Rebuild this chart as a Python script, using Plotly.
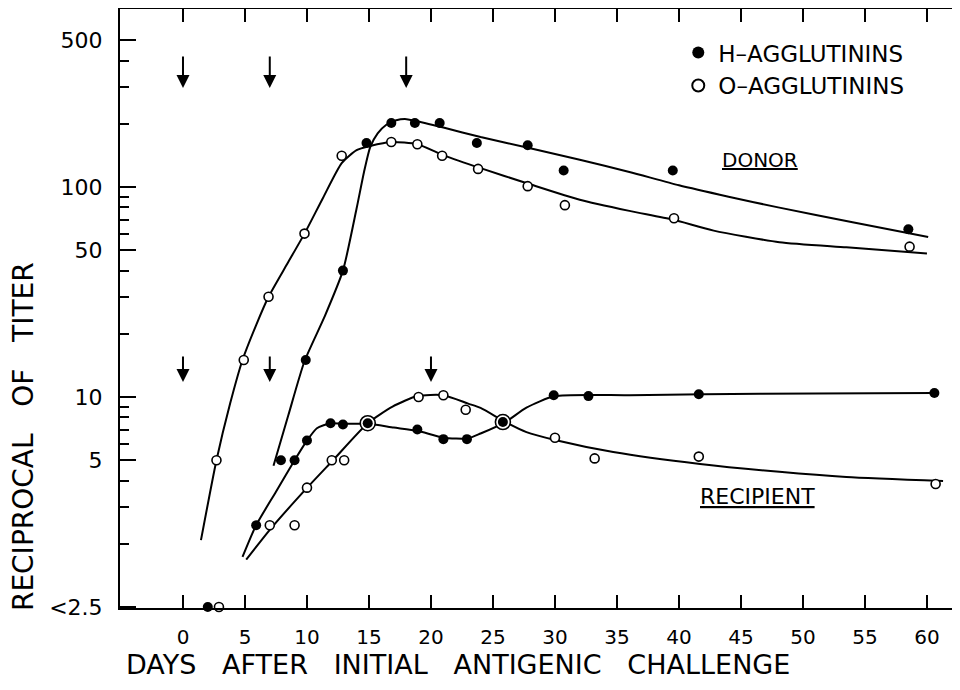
import math
import plotly.graph_objects as go

# ---------------- data ----------------
# Donor, H-agglutinins (filled dots)
donor_h_days = [7.9, 9.9, 12.9, 14.8, 16.8, 18.7, 20.7, 23.7, 27.8, 30.7, 39.5, 58.5]
donor_h_vals = [5.0, 15, 40, 162, 202, 202, 202, 162, 158, 120, 120, 63]
# Donor, O-agglutinins (open circles)
donor_o_days = [2.7, 4.9, 6.9, 9.8, 12.8, 16.8, 18.9, 20.9, 23.8, 27.8, 30.8, 39.6, 58.6]
donor_o_vals = [5.0, 15, 30, 60, 141, 164, 160, 141, 122, 101, 82, 71, 52]
# Recipient, H-agglutinins
recip_h_days = [5.9, 9.0, 10.0, 11.9, 12.9, 14.9, 18.9, 21.0, 22.9, 25.8, 29.9, 32.7, 41.6, 60.6]
recip_h_vals = [2.45, 5.0, 6.2, 7.5, 7.4, 7.5, 7.0, 6.3, 6.3, 7.6, 10.2, 10.1, 10.3, 10.45]
# Recipient, O-agglutinins
recip_o_days = [7.0, 9.0, 10.0, 12.0, 13.0, 14.9, 19.0, 21.0, 22.8, 25.8, 30.0, 33.2, 41.6, 60.7]
recip_o_vals = [2.45, 2.45, 3.7, 5.0, 5.0, 7.5, 10.0, 10.2, 8.7, 7.6, 6.4, 5.1, 5.2, 3.85]
# Titer below detection ("<2.5"), drawn on the bottom axis
below_h_days = [2.0]
below_o_days = [2.9]
BELOW_LEVEL = 1.0

# Fitted curves
donor_h_curve_days = [7.3, 8.5, 9.8, 11.4, 12.9, 14.0, 14.6, 15.1, 15.7, 16.4, 17.2, 17.9, 18.7,
                      21.0, 24.0, 28.0, 32.0, 36.0, 40.0, 44.0, 48.0, 54.0, 60.1]
donor_h_curve_vals = [4.7, 8.2, 14.8, 24, 40, 79, 118, 155, 180, 198, 208, 211, 207,
                      192, 173, 153, 135, 118, 102, 90, 80, 68, 57.8]
donor_o_curve_days = [1.45, 2.7, 3.8, 4.8, 5.9, 6.9, 8.4, 9.8, 11.3, 12.8, 14.0, 15.1, 16.8, 18.9,
                      21.0, 24.0, 27.8, 32.0, 36.0, 39.5, 42.8, 48.1, 53.5, 60.0]
donor_o_curve_vals = [2.08, 5.0, 9.3, 15, 22, 30, 43, 60, 89, 130, 150, 157, 164, 160,
                      142, 123, 104, 87, 77, 70, 62, 54.6, 51.6, 48.3]
recip_h_curve_days = [4.8, 5.9, 7.5, 9.0, 10.0, 10.8, 11.9, 12.9, 14.9, 17.0, 18.9, 21.0, 23.0,
                      24.0, 26.0, 27.7, 30.0, 36.0, 42.0, 51.0, 60.6]
recip_h_curve_vals = [1.73, 2.45, 3.54, 5.0, 6.2, 7.1, 7.5, 7.45, 7.45, 7.15, 6.9, 6.4, 6.35,
                      6.7, 7.6, 8.9, 10.1, 10.2, 10.3, 10.4, 10.45]
recip_o_curve_days = [5.1, 7.0, 10.0, 12.1, 14.9, 16.9, 18.9, 21.0, 23.0, 24.0, 26.0, 27.7,
                      30.0, 34.7, 41.7, 48.1, 53.5, 61.3]
recip_o_curve_vals = [1.68, 2.33, 3.69, 5.0, 7.5, 9.0, 10.1, 10.2, 9.3, 8.87, 7.6, 6.8,
                      6.24, 5.47, 4.8, 4.4, 4.16, 3.98]

# Injection arrows
donor_arrow_days = [0, 7, 18]
donor_arrow_level = 296
recip_arrow_days = [0, 7, 20]
recip_arrow_level = 11.8

# Axis ticks
x_ticks = list(range(0, 61, 5))
y_major_vals = [1, 5, 10, 50, 100, 500]
y_major_text = ["<2.5", "5", "10", "50", "100", "500"]
y_minor_vals = [2, 3, 4, 6, 7, 8, 9, 20, 30, 40, 60, 70, 80, 90, 200, 300, 400]

# ---------------- figure ----------------
FONT = "DejaVu Sans"
fig = go.Figure()

def curve(xs, ys):
    fig.add_trace(go.Scatter(x=xs, y=ys, mode="lines", showlegend=False, hoverinfo="skip",
                             line=dict(color="black", width=2, shape="spline", smoothing=0.6)))

curve(donor_h_curve_days, donor_h_curve_vals)
curve(donor_o_curve_days, donor_o_curve_vals)
curve(recip_h_curve_days, recip_h_curve_vals)
curve(recip_o_curve_days, recip_o_curve_vals)

filled = dict(symbol="circle", size=10, color="black", opacity=1, line=dict(width=0))
def open_marker(size):
    return dict(symbol="circle", size=size, color="white", opacity=1,
                line=dict(color="black", width=1.6))

# open circles that coincide with a filled dot are drawn larger
def sizes(days, vals, other_days, other_vals):
    out = []
    for d, v in zip(days, vals):
        hit = any(abs(d - d2) < 0.3 and abs(math.log10(v) - math.log10(v2)) < 0.03
                  for d2, v2 in zip(other_days, other_vals))
        out.append(15 if hit else 9)
    return out

fig.add_trace(go.Scatter(x=donor_o_days, y=donor_o_vals, mode="markers", name="O–AGGLUTININS",
                         marker=open_marker(9), legendrank=2))
fig.add_trace(go.Scatter(x=recip_o_days, y=recip_o_vals, mode="markers", showlegend=False,
                         marker=open_marker(sizes(recip_o_days, recip_o_vals, recip_h_days, recip_h_vals))))
fig.add_trace(go.Scatter(x=donor_h_days, y=donor_h_vals, mode="markers", name="H–AGGLUTININS",
                         marker=filled, legendrank=1))
fig.add_trace(go.Scatter(x=recip_h_days, y=recip_h_vals, mode="markers", showlegend=False, marker=filled))
fig.add_trace(go.Scatter(x=below_h_days, y=[BELOW_LEVEL] * len(below_h_days), mode="markers",
                         showlegend=False, marker=filled, cliponaxis=False))
fig.add_trace(go.Scatter(x=below_o_days, y=[BELOW_LEVEL] * len(below_o_days), mode="markers",
                         showlegend=False, marker=open_marker(9), cliponaxis=False))

annotations = []
for d in donor_arrow_days:
    annotations.append(dict(x=d, y=math.log10(donor_arrow_level), xref="x", yref="y", text="",
                            showarrow=True, arrowhead=2, arrowsize=1.3, arrowwidth=2,
                            arrowcolor="black", ax=0, ay=-33))
for d in recip_arrow_days:
    annotations.append(dict(x=d, y=math.log10(recip_arrow_level), xref="x", yref="y", text="",
                            showarrow=True, arrowhead=2, arrowsize=1.3, arrowwidth=2,
                            arrowcolor="black", ax=0, ay=-27))

NB = "\u00a0"
x_title = (NB * 3).join(["DAYS", "AFTER", "INITIAL", "ANTIGENIC", "CHALLENGE"])
y_title = (NB * 3).join(["RECIPROCAL", "OF", "TITER"])

annotations += [
    dict(x=46.5, y=math.log10(135), xref="x", yref="y", text="<u>DONOR</u>", showarrow=False,
         font=dict(family=FONT, size=20, color="black")),
    dict(x=46.3, y=math.log10(3.34), xref="x", yref="y", text="<u>RECIPIENT</u>", showarrow=False,
         font=dict(family=FONT, size=22, color="black")),
    dict(x=0.406, y=-0.1235, xref="paper", yref="paper", xanchor="center", yanchor="bottom",
         text=x_title, showarrow=False, font=dict(family=FONT, size=27, color="black")),
    dict(x=-0.1166, y=0.287, xref="paper", yref="paper", xanchor="center", yanchor="middle",
         text=y_title, textangle=-90,
         showarrow=False, font=dict(family=FONT, size=28, color="black")),
]

# The page adds an 8px body margin, so the figure is sized to fit inside the window
fig.update_layout(
    width=944, height=674,
    margin=dict(l=112, r=0, t=1, b=74, autoexpand=False),
    plot_bgcolor="white", paper_bgcolor="white",
    font=dict(family=FONT, color="black"),
    showlegend=True,
    legend=dict(x=0.671, y=0.963, xanchor="left", yanchor="top", bgcolor="rgba(0,0,0,0)",
                font=dict(family=FONT, size=23, color="black"), itemsizing="constant"),
    annotations=annotations,
    xaxis=dict(range=[-5.08, 62.02], tickmode="array", tickvals=x_ticks, ticks="inside", ticklen=13,
               tickwidth=2, tickcolor="black", showline=True, linewidth=2, linecolor="black",
               mirror="ticks", showgrid=False, zeroline=False, automargin=False,
               ticklabelstandoff=10,
               tickfont=dict(family=FONT, size=20, color="black")),
    yaxis=dict(type="log", range=[-0.005, 2.848], tickmode="array", tickvals=y_major_vals,
               ticktext=y_major_text, ticks="inside", ticklen=16, tickwidth=2, tickcolor="black",
               showline=True, linewidth=2, linecolor="black", showgrid=False, zeroline=False,
               ticklabelstandoff=11, automargin=False,
               tickfont=dict(family=FONT, size=22, color="black"),
               minor=dict(tickmode="array", tickvals=y_minor_vals, ticks="inside", ticklen=9,
                          tickwidth=2, tickcolor="black", showgrid=False)),
    yaxis2=dict(type="log", range=[-0.005, 2.848], overlaying="y", side="right", anchor="x",
                tickmode="array", tickvals=y_major_vals, showticklabels=False, ticks="inside",
                ticklen=9, tickwidth=2, tickcolor="black", showline=False, showgrid=False,
                zeroline=False, automargin=False,
                minor=dict(tickmode="array", tickvals=y_minor_vals, ticks="inside", ticklen=4,
                           tickwidth=2, tickcolor="black", showgrid=False)),
)

fig.write_html("out.html")
